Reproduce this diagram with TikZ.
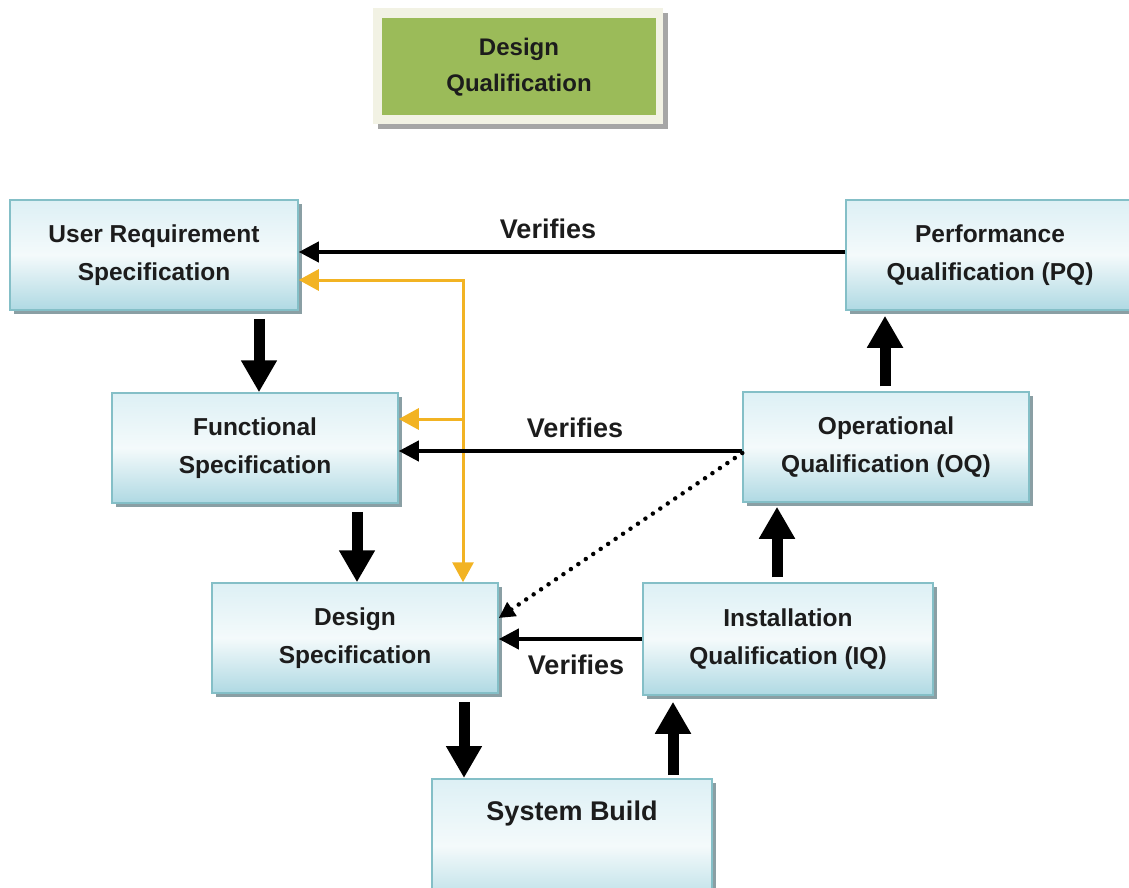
\documentclass[tikz,border=0pt]{standalone}
\usepackage{fontspec}
\setmainfont{Liberation Sans}
\usetikzlibrary{arrows.meta,shadows,calc}
\definecolor{boxtop}{HTML}{DDF0F5}
\definecolor{boxmid}{HTML}{F4FAFB}
\definecolor{boxbot}{HTML}{AFD9E3}
\definecolor{boxborder}{HTML}{84BFC7}
\definecolor{shadowc}{HTML}{8A9FA4}
\definecolor{txt}{HTML}{1C1C1C}
\definecolor{dqgreen}{HTML}{9BBB59}
\definecolor{dqframe}{HTML}{F2F2E4}
\definecolor{orangec}{HTML}{F2B323}
\begin{document}
\begin{tikzpicture}[x=1pt,y=-1pt,
  box/.style={draw=boxborder, line width=1.5pt, top color=boxtop, bottom color=boxbot, middle color=boxmid,
    drop shadow={shadow xshift=4pt, shadow yshift=-4pt, fill=shadowc, opacity=1},
    minimum width=288pt, minimum height=110pt, align=center, inner sep=0pt,
    font=\fontsize{24.5}{38}\selectfont\bfseries, text=txt},
  verif/.style={font=\fontsize{27}{32}\selectfont\bfseries, text=txt, inner sep=0pt},
  fat/.style={line width=11pt, -{Triangle[length=32pt,width=34pt]}, black},
  vline/.style={line width=4pt, -{Triangle[length=20pt,width=20pt]}, black},
  oline/.style={draw=orangec, line width=3pt},
  otip/.tip={Triangle[length=20pt,width=21pt]},
  dots/.style={line width=4.5pt, line cap=round, dash pattern=on 0pt off 9pt, black,
    -{Triangle[length=16pt,width=16pt]}}
]
\useasboundingbox (0,0) rectangle (1129,888);

% Design Qualification
\node[fill=dqframe, minimum width=290pt, minimum height=116pt, inner sep=0pt,
  drop shadow={shadow xshift=5pt, shadow yshift=-5pt, fill=gray!70, opacity=1}] (dqf) at (518,66) {};
\node[fill=dqgreen, minimum width=274pt, minimum height=97pt, inner sep=0pt, align=center,
  font=\fontsize{24}{36}\selectfont\bfseries, text=txt] (dq) at (519,67) {Design\\Qualification};

% boxes
\node[box] (URS) at (154,255) {User Requirement\\Specification};
\node[box] (PQ) at (990,255) {Performance\\Qualification (PQ)};
\node[box, minimum width=286pt] (FS) at (255,448) {Functional\\Specification};
\node[box, minimum width=286pt] (OQ) at (886,447) {Operational\\Qualification (OQ)};
\node[box, minimum width=286pt] (DS) at (355,638) {Design\\Specification};
\node[box, minimum width=290pt, minimum height=112pt] (IQ) at (788,639) {Installation\\Qualification (IQ)};
\node[box, anchor=north, minimum width=280pt, minimum height=0pt, inner ysep=12pt,
  text height=30pt, text depth=80pt, font=\fontsize{27}{32}\selectfont\bfseries] (SB) at (572,778) {System Build};

% orange connectors
\draw[oline, otip-otip] ([yshift=-25pt]URS.east) -| ([xshift=108pt]DS.north);
\coordinate (ob) at ([xshift=108pt]DS.north |- FS.east);
\draw[oline, -otip] ([yshift=29pt]ob) -- ([yshift=29pt]FS.east);

% verifies connectors
\draw[vline] ([yshift=3pt]PQ.west) -- ([yshift=3pt]PQ.west -| URS.east);
\draw[vline] ([yshift=-4pt]OQ.west) -- ([yshift=-4pt]OQ.west -| FS.east);
\draw[vline] (IQ.west) -- (IQ.west -| DS.east);
\draw[dots] ([yshift=-6pt]OQ.west) -- ([yshift=20pt]DS.east);

\node[verif] (v1) at (548,229) {Verifies};
\node[verif] (v2) at (575,428) {Verifies};
\node[verif] (v3) at (576,665) {Verifies};

% thick flow arrows
\draw[fat] ([xshift=105pt,yshift=-8pt]URS.south) -- ([xshift=105pt]URS.south |- FS.north);
\draw[fat] ([xshift=102pt,yshift=-8pt]FS.south) -- ([xshift=102pt]FS.south |- DS.north);
\draw[fat] ([xshift=109pt,yshift=-8pt]DS.south) -- ([xshift=109pt]DS.south |- SB.north);
\draw[fat] ([xshift=101pt,yshift=3pt]SB.north) -- ([xshift=101pt,yshift=-6pt]SB.north |- IQ.south);
\draw[fat] ([xshift=-11pt,yshift=5pt]IQ.north) -- ([xshift=-11pt,yshift=-4pt]IQ.north |- OQ.south);
\draw[fat] ([xshift=-1pt,yshift=5pt]OQ.north) -- ([xshift=-1pt,yshift=-5pt]OQ.north |- PQ.south);
\end{tikzpicture}
\end{document}
